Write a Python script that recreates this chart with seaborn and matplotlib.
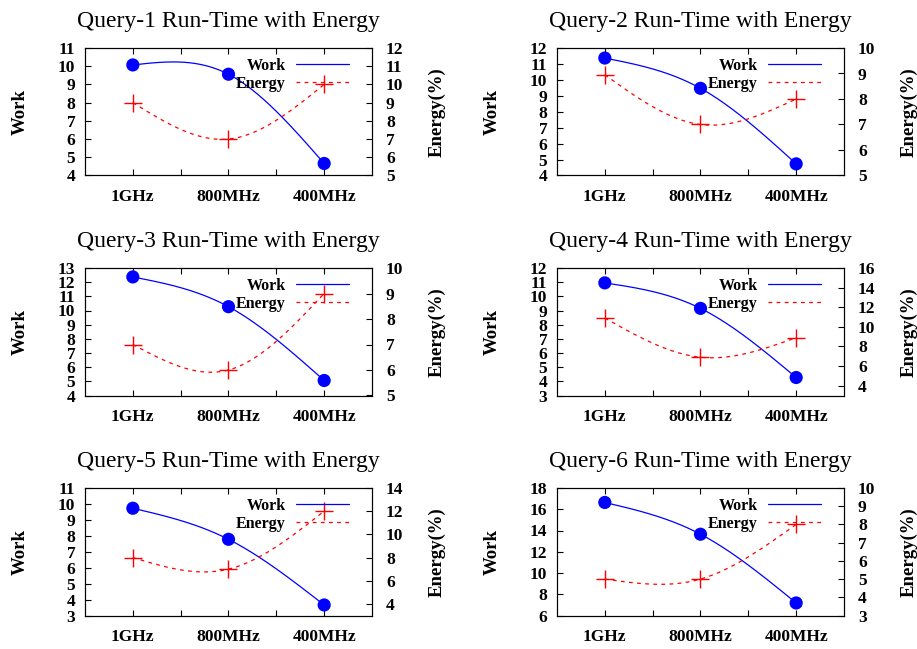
import numpy as np
import pandas as pd
import seaborn as sns
import matplotlib.pyplot as plt

# ---------------- data ----------------
freqs = ["1GHz", "800MHz", "400MHz"]
titles = ["Query-1 Run-Time with Energy", "Query-2 Run-Time with Energy",
          "Query-3 Run-Time with Energy", "Query-4 Run-Time with Energy",
          "Query-5 Run-Time with Energy", "Query-6 Run-Time with Energy"]

work_q1 = [10.07, 9.56, 4.66]
work_q2 = [11.37, 9.47, 4.73]
work_q3 = [12.37, 10.27, 5.06]
work_q4 = [10.95, 9.15, 4.27]
work_q5 = [9.73, 7.78, 3.66]
work_q6 = [16.64, 13.65, 7.18]

energy_q1 = [9, 7, 10]
energy_q2 = [8.95, 7, 8]
energy_q3 = [7, 6, 9]
energy_q4 = [10.9, 6.9, 8.9]
energy_q5 = [8, 7, 12]
energy_q6 = [5, 5, 8]

work_ranges = [(4, 11, 1), (4, 12, 1), (4, 13, 1), (3, 12, 1), (3, 11, 1), (6, 18, 2)]
energy_ranges = [(5, 12, 5, 1), (5, 10, 5, 1), (5, 10, 5, 1), (3, 16, 4, 2), (3, 14, 4, 2), (3, 10, 3, 1)]

works = [work_q1, work_q2, work_q3, work_q4, work_q5, work_q6]
energies = [energy_q1, energy_q2, energy_q3, energy_q4, energy_q5, energy_q6]


def natural_spline(xs, ys, n=200):
    """Natural cubic spline (like gnuplot 'smooth csplines')."""
    xs = np.asarray(xs, float)
    ys = np.asarray(ys, float)
    k = len(xs)
    h = np.diff(xs)
    A = np.zeros((k, k))
    b = np.zeros(k)
    A[0, 0] = 1
    A[-1, -1] = 1
    for i in range(1, k - 1):
        A[i, i - 1] = h[i - 1]
        A[i, i] = 2 * (h[i - 1] + h[i])
        A[i, i + 1] = h[i]
        b[i] = 6 * ((ys[i + 1] - ys[i]) / h[i] - (ys[i] - ys[i - 1]) / h[i - 1])
    M = np.linalg.solve(A, b)
    xd = np.linspace(xs[0], xs[-1], n)
    yd = np.empty_like(xd)
    for j, x in enumerate(xd):
        i = min(np.searchsorted(xs, x, side="right") - 1, k - 2)
        a, c = xs[i], xs[i + 1]
        hh = c - a
        yd[j] = (M[i] * (c - x) ** 3 / (6 * hh) + M[i + 1] * (x - a) ** 3 / (6 * hh)
                 + (ys[i] - M[i] * hh ** 2 / 6) * (c - x) / hh
                 + (ys[i + 1] - M[i + 1] * hh ** 2 / 6) * (x - a) / hh)
    return xd, yd


sns.set_theme(style="white")
plt.rcParams["font.family"] = ["Liberation Serif", "DejaVu Serif"]
plt.rcParams["axes.edgecolor"] = "black"
plt.rcParams["axes.linewidth"] = 0.8
plt.rcParams["text.color"] = "black"
plt.rcParams["axes.labelcolor"] = "black"
plt.rcParams["xtick.color"] = "black"
plt.rcParams["ytick.color"] = "black"
plt.rcParams["axes.titlecolor"] = "black"

fig = plt.figure(figsize=(9.17, 6.49), dpi=100)

W, H = 917.0, 649.0
col_left = [85, 557]
row_top = [48, 268, 488]
ax_w, ax_h = 287, 127.5

TICK = 12.5
xpos = np.arange(len(freqs))

for idx in range(6):
    r, c = divmod(idx, 2)
    left = col_left[c] / W
    bottom = 1 - (row_top[r] + ax_h) / H
    ax = fig.add_axes([left, bottom, ax_w / W, ax_h / H])
    ax2 = ax.twinx()

    df = pd.DataFrame({"x": xpos, "work": works[idx], "energy": energies[idx]})

    xd, yd = natural_spline(df["x"], df["work"])
    sns.lineplot(x=xd, y=yd, ax=ax, color="#0000ff", lw=0.9, label="Work")
    sns.scatterplot(data=df, x="x", y="work", ax=ax, color="#0000ff", s=90,
                    marker="o", edgecolor="none", legend=False, zorder=5)

    xe, ye = natural_spline(df["x"], df["energy"])
    sns.lineplot(x=xe, y=ye, ax=ax2, color="#ff0000", lw=0.9,
                 linestyle=(0, (3, 3.5)), label="Energy")
    sns.scatterplot(data=df, x="x", y="energy", ax=ax2, color="#ff0000", s=150,
                    marker="+", linewidth=1.0, legend=False, zorder=5)

    h1, l1 = ax.get_legend_handles_labels()
    h2, l2 = ax2.get_legend_handles_labels()
    for a in (ax, ax2):
        if a.get_legend() is not None:
            a.get_legend().remove()
    ax2.legend(h1 + h2, l1 + l2, loc="upper right", bbox_to_anchor=(0.92, 0.925),
               frameon=False, markerfirst=False, handlelength=3.3,
               handletextpad=0.65, labelspacing=0.15, borderpad=0,
               borderaxespad=0, prop={"size": 11.5, "weight": "bold"})

    ax.set_xlim(-0.5, 2.5)
    ax.set_xticks(xpos)
    ax.set_xticklabels(freqs)
    ax.set_xticks([0.5, 1.5], minor=True)
    wlo, whi, wstep = work_ranges[idx]
    ax.set_ylim(wlo, whi)
    ax.set_yticks(np.arange(wlo, whi + 0.01, wstep))
    elo, ehi, efirst, estep = energy_ranges[idx]
    ax2.set_ylim(elo, ehi)
    ax2.set_yticks(np.arange(efirst, ehi + 0.01, estep))

    ax.tick_params(axis="x", which="both", direction="in", top=True, bottom=True,
                   length=4.5, width=0.8, labelsize=TICK, pad=10, color="black")
    ax.tick_params(axis="y", which="both", direction="in", left=True, right=False,
                   length=4.5, width=0.8, labelsize=TICK, pad=7, color="black")
    ax2.tick_params(axis="y", which="both", direction="in", right=True, left=False,
                    length=4.5, width=0.8, labelsize=TICK, pad=10, color="black")
    for t in ax.get_xticklabels() + ax.get_yticklabels() + ax2.get_yticklabels():
        t.set_fontweight("bold")

    ax.set_xlabel("")
    ax.set_ylabel("Work", fontsize=13.5, fontweight="bold")
    ax2.set_ylabel("Energy(%)", fontsize=13.5, fontweight="bold")
    ax.yaxis.set_label_coords(-0.195, 0.5)
    ax2.yaxis.set_label_coords(1.195, 0.5)
    ax.set_title(titles[idx], fontsize=17, pad=15)

    for a in (ax, ax2):
        for s in a.spines.values():
            s.set_color("black")
            s.set_linewidth(0.8)

fig.savefig("out.png", dpi=100)
